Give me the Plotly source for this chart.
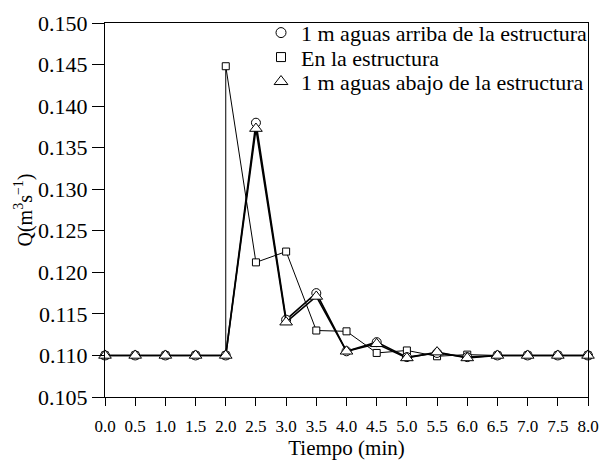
import plotly.graph_objects as go

tiempo = [0.0, 0.5, 1.0, 1.5, 2.0, 2.5, 3.0, 3.5, 4.0, 4.5, 5.0, 5.5, 6.0, 6.5, 7.0, 7.5, 8.0]
tiempo_est = [0.0, 0.5, 1.0, 1.5, 2.0, 2.0, 2.5, 3.0, 3.5, 4.0, 4.5, 5.0, 5.5, 6.0, 6.5, 7.0, 7.5, 8.0]
arriba = [0.110, 0.110, 0.110, 0.110, 0.110, 0.1380, 0.1143, 0.1175, 0.1105, 0.1116, 0.1098, 0.1103, 0.1098, 0.1100, 0.1100, 0.1100, 0.1100]
estructura = [0.110, 0.110, 0.110, 0.110, 0.110, 0.1448, 0.1212, 0.1225, 0.1130, 0.1129, 0.1103, 0.1106, 0.1099, 0.1101, 0.1100, 0.1100, 0.1100, 0.1100]
abajo = [0.110, 0.110, 0.110, 0.110, 0.110, 0.1373, 0.1140, 0.1171, 0.1105, 0.1114, 0.1097, 0.1104, 0.1097, 0.1100, 0.1100, 0.1100, 0.1100]
names = ["1 m aguas arriba de la estructura", "En la estructura", "1 m aguas abajo de la estructura"]
xticks = [i * 0.5 for i in range(17)]
yticks = [0.105 + i * 0.005 for i in range(10)]

font = "Liberation Serif, Times New Roman, serif"
fig = go.Figure()

series = [
    (tiempo_est, estructura, "square", 7, 1.0),
    (tiempo, arriba, "circle", 9, 1.6),
    (tiempo, abajo, "triangle-up", 11, 1.6),
]
for xs, ys, sym, size, lw in series:
    fig.add_trace(go.Scatter(
        x=xs, y=ys, mode="lines+markers", showlegend=False, cliponaxis=False,
        line=dict(color="black", width=lw),
        marker=dict(symbol=sym, size=size, color="white", line=dict(color="black", width=1)),
    ))

legend_ids = ["legend", "legend2", "legend3"]
for name, sym, size, lid in zip(names, ["circle", "square", "triangle-up"], [10, 9, 12], legend_ids):
    fig.add_trace(go.Scatter(
        x=[None], y=[None], mode="markers", name=name, legend=lid,
        marker=dict(symbol=sym, size=size, color="white", line=dict(color="black", width=1)),
    ))

def leg(yc):
    return dict(x=0.323, y=yc, xanchor="left", yanchor="middle", bgcolor="rgba(0,0,0,0)",
                font=dict(family=font, size=22), itemwidth=30, tracegroupgap=0)

fig.update_layout(
    width=605, height=461,
    margin=dict(l=105, r=14, t=15, b=64),
    paper_bgcolor="white", plot_bgcolor="white",
    font=dict(family=font, size=18, color="black"),
    showlegend=True,
    legend=leg(1 - 10 / 382),
    legend2=leg(1 - 35 / 382),
    legend3=leg(1 - 60 / 382),
    xaxis=dict(range=[0, 8], tickvals=xticks, ticktext=[f"{v:.1f}" for v in xticks],
               showline=True, linecolor="black", linewidth=1, mirror=True, automargin=False,
               ticks="outside", ticklen=8, tickcolor="black", showgrid=False, zeroline=False,
               tickfont=dict(family=font, size=17), ticklabelstandoff=6,
               title=dict(text="Tiempo (min)", font=dict(family=font, size=21), standoff=4)),
    yaxis=dict(range=[0.105, 0.150], tickvals=yticks, ticktext=[f"{v:.3f}" for v in yticks],
               showline=True, linecolor="black", linewidth=1, mirror=True, automargin=False,
               ticks="outside", ticklen=12, tickcolor="black", showgrid=False, zeroline=False,
               tickfont=dict(family=font, size=22),
               title=dict(text="Q(m<sup>3</sup>s<sup>−1</sup>)", font=dict(family=font, size=20), standoff=0)),
)

fig.write_html("out.html")
